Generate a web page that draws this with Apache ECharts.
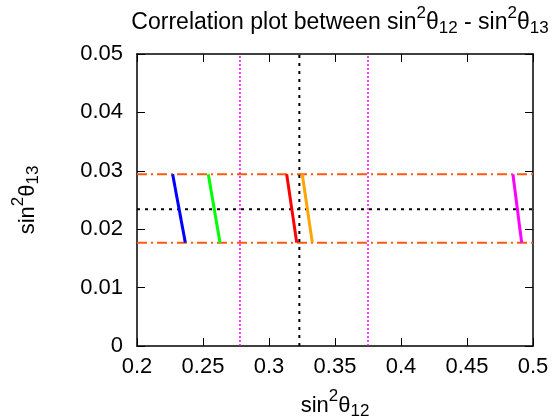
<!DOCTYPE html>
<html>
<head>
<meta charset="utf-8">
<script src="https://cdn.jsdelivr.net/npm/echarts@6/dist/echarts.min.js"></script>
<style>
	html,body{margin:0;padding:0;background:#fff;}
	#chart{width:552px;height:419px;}
</style>
</head>
<body>
<div id="chart"></div>
<script>
	// 刻度
	var x_ticks = [0.2, 0.25, 0.3, 0.35, 0.4, 0.45, 0.5];
	var y_ticks = [0, 0.01, 0.02, 0.03, 0.04, 0.05];
	// 3σ 范围与最佳拟合值
	var s13_lo = 0.0177, s13_bf = 0.0234, s13_hi = 0.0294;
	var s12_lo = 0.278, s12_bf = 0.323, s12_hi = 0.375;
	// 各条相关线：[上端 x, 下端 x]
	var seg_names = ['blue', 'green', 'red', 'orange', 'magenta'];
	var seg_top_x = [0.2270, 0.2540, 0.3134, 0.3252, 0.4848];
	var seg_bot_x = [0.2366, 0.2629, 0.3210, 0.3328, 0.4914];
	var seg_colors = ['#0000ff', '#00ff00', '#ff0000', '#ffa500', '#ff00ff'];

	var font = 'Liberation Sans, Arial, sans-serif';
	var rich = {
		sup:{fontSize:17, fontFamily:font, color:'#000', padding:[0,0,18,0]},
		sub:{fontSize:17, fontFamily:font, color:'#000', padding:[12,0,0,0]}
	};

	var series = [];
	// 水平虚线
	[s13_hi, s13_lo].forEach(function(v){
		series.push({type:'line', symbol:'none', silent:true, data:[[x_ticks[0], v], [x_ticks[x_ticks.length - 1], v]],
			lineStyle:{color:'#ff5a14', width:2, type:[10,4,2,4]}});
	});
	series.push({type:'line', symbol:'none', silent:true, data:[[x_ticks[0], s13_bf], [x_ticks[x_ticks.length - 1], s13_bf]],
		lineStyle:{color:'#000', width:2, type:[3,5]}});
	// 竖直虚线
	[s12_lo, s12_hi].forEach(function(v){
		series.push({type:'line', symbol:'none', silent:true, data:[[v, y_ticks[0]], [v, y_ticks[y_ticks.length - 1]]],
			lineStyle:{color:'#ff00ff', width:1.5, type:[2,2]}});
	});
	series.push({type:'line', symbol:'none', silent:true, data:[[s12_bf, y_ticks[0]], [s12_bf, y_ticks[y_ticks.length - 1]]],
		lineStyle:{color:'#000', width:2, type:[3,5]}});
	// 相关线
	seg_names.forEach(function(n, i){
		series.push({name:n, type:'line', symbol:'none', data:[[seg_top_x[i], s13_hi], [seg_bot_x[i], s13_lo]],
			lineStyle:{color:seg_colors[i], width:3}});
	});

	var axisCommon = {
		type:'value',
		axisLine:{show:true, onZero:false, lineStyle:{color:'#000', width:1.5}},
		axisTick:{show:true, inside:true, length:8, lineStyle:{color:'#000', width:1}},
		splitLine:{show:false}
	};

	var chart = echarts.init(document.getElementById('chart'));
	chart.setOption({
		animation:false,
		title:{
			text:'Correlation plot between sin{sup|2}θ{sub|12} - sin{sup|2}θ{sub|13}',
			left:335, top:0, textAlign:'center',
			textStyle:{fontSize:23, fontWeight:'normal', color:'#000', fontFamily:font, rich:rich}
		},
		grid:{left:137, right:19, top:54, bottom:73, outerBoundsMode:'none', containLabel:false},
		xAxis:[
			Object.assign({}, axisCommon, {
				position:'bottom', min:0.2, max:0.5, interval:0.05,
				axisLabel:{color:'#000', fontSize:22, fontFamily:font, margin:10},
				name:'sin{sup|2}θ{sub|12}', nameLocation:'middle', nameGap:42,
				nameTextStyle:{fontSize:22, color:'#000', fontFamily:font, rich:rich}
			}),
			Object.assign({}, axisCommon, {
				position:'top', min:0.2, max:0.5, interval:0.05, axisLabel:{show:false}
			})
		],
		yAxis:[
			Object.assign({}, axisCommon, {
				position:'left', min:0, max:0.05, interval:0.01,
				axisLabel:{color:'#000', fontSize:22, fontFamily:font, margin:14},
				name:'sin{sup|2}θ{sub|13}', nameLocation:'middle', nameGap:92, nameRotate:90,
				nameTextStyle:{fontSize:22, color:'#000', fontFamily:font, rich:rich}
			}),
			Object.assign({}, axisCommon, {
				position:'right', min:0, max:0.05, interval:0.01, axisLabel:{show:false}
			})
		],
		series:series
	});
</script>
</body>
</html>
